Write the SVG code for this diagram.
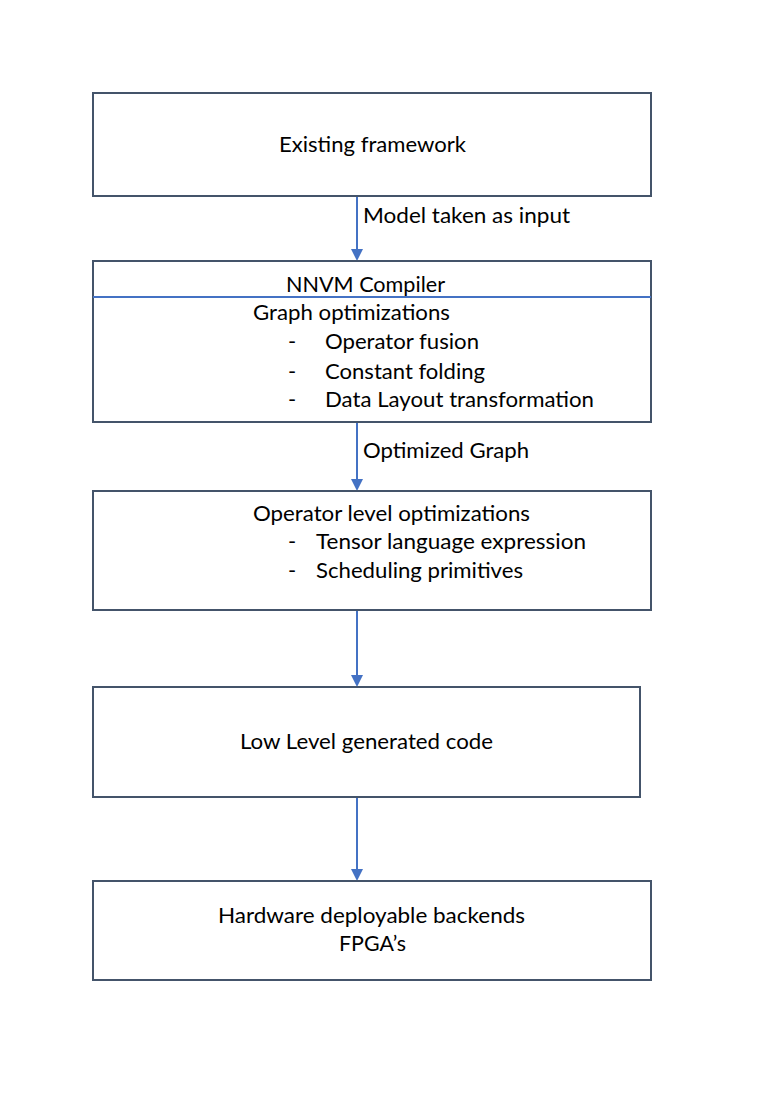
<svg xmlns="http://www.w3.org/2000/svg" width="760" height="1094" viewBox="0 0 760 1094">
<style>
.box{fill:#fff;stroke:#44546A;stroke-width:2}
.t{font-family:Lato,"Open Sans","Liberation Sans",sans-serif;font-size:22px;fill:#000}
.c{stroke:#4472C4;stroke-width:2;fill:none}
.ah{fill:#4472C4}
</style>
<rect width="760" height="1094" fill="#fff"/>
<g id="connectors">
<line class="c" x1="357" y1="197" x2="357" y2="250"/>
<path class="ah" d="M351,249 L363,249 L357,261 Z"/>
<line class="c" x1="357" y1="423" x2="357" y2="480"/>
<path class="ah" d="M351,479 L363,479 L357,491 Z"/>
<line class="c" x1="357" y1="611" x2="357" y2="676"/>
<path class="ah" d="M351,675 L363,675 L357,687 Z"/>
<line class="c" x1="357" y1="798" x2="357" y2="870"/>
<path class="ah" d="M351,869 L363,869 L357,881 Z"/>
<text class="t" x="363" y="223" textLength="207" lengthAdjust="spacingAndGlyphs">Model taken as input</text>
<text class="t" x="363" y="458" textLength="166" lengthAdjust="spacingAndGlyphs">Optimized Graph</text>
</g>
<g id="n1">
<rect class="box" x="93" y="93" width="558" height="103"/>
<text class="t" x="279" y="152" textLength="187" lengthAdjust="spacingAndGlyphs">Existing framework</text>
</g>
<g id="n2">
<rect class="box" x="93" y="261" width="558" height="161"/>
<line x1="93" y1="297" x2="651" y2="297" stroke="#4472C4" stroke-width="2"/>
<text class="t" x="286" y="292" textLength="159" lengthAdjust="spacingAndGlyphs">NNVM Compiler</text>
<text class="t" x="253" y="320" textLength="197" lengthAdjust="spacingAndGlyphs">Graph optimizations</text>
<text class="t" x="288" y="349">-</text>
<text class="t" x="325" y="349" textLength="154" lengthAdjust="spacingAndGlyphs">Operator fusion</text>
<text class="t" x="288" y="379">-</text>
<text class="t" x="325" y="379" textLength="160" lengthAdjust="spacingAndGlyphs">Constant folding</text>
<text class="t" x="288" y="407">-</text>
<text class="t" x="325" y="407" textLength="269" lengthAdjust="spacingAndGlyphs">Data Layout transformation</text>
</g>
<g id="n3">
<rect class="box" x="93" y="491" width="558" height="119"/>
<text class="t" x="253" y="521" textLength="277" lengthAdjust="spacingAndGlyphs">Operator level optimizations</text>
<text class="t" x="288" y="549">-</text>
<text class="t" x="316" y="549" textLength="270" lengthAdjust="spacingAndGlyphs">Tensor language expression</text>
<text class="t" x="288" y="578">-</text>
<text class="t" x="316" y="578" textLength="207" lengthAdjust="spacingAndGlyphs">Scheduling primitives</text>
</g>
<g id="n4">
<rect class="box" x="93" y="687" width="547" height="110"/>
<text class="t" x="240" y="749" textLength="253" lengthAdjust="spacingAndGlyphs">Low Level generated code</text>
</g>
<g id="n5">
<rect class="box" x="93" y="881" width="558" height="99"/>
<text class="t" x="218" y="923" textLength="307" lengthAdjust="spacingAndGlyphs">Hardware deployable backends</text>
<text class="t" x="339" y="951" textLength="67" lengthAdjust="spacingAndGlyphs">FPGA’s</text>
</g>
</svg>
